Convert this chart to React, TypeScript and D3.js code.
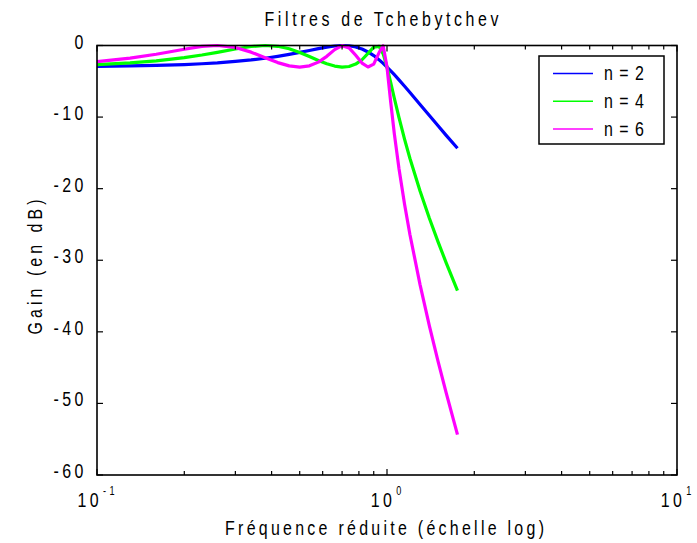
import * as d3 from 'd3';

// reduced frequency (log axis)
const freqs = [0.1, 0.13, 0.16, 0.2, 0.23, 0.26, 0.3, 0.34, 0.38, 0.42, 0.46, 0.5, 0.54, 0.58, 0.62, 0.66, 0.7, 0.74, 0.78, 0.82, 0.86, 0.9, 0.94, 0.97, 1.0, 1.03, 1.06, 1.1, 1.15, 1.2, 1.3, 1.4, 1.5, 1.6, 1.75];

// gain in dB for each order
const gainN2 = [-2.92, -2.86, -2.79, -2.66, -2.55, -2.43, -2.23, -2.02, -1.78, -1.52, -1.25, -0.97, -0.7, -0.44, -0.23, -0.07, 0, -0.04, -0.2, -0.49, -0.9, -1.41, -2.01, -2.5, -3.01, -3.54, -4.08, -4.8, -5.69, -6.57, -8.24, -9.79, -11.22, -12.55, -14.36];
const gainN4 = [-2.67, -2.44, -2.15, -1.7, -1.33, -0.95, -0.49, -0.14, 0, -0.11, -0.46, -0.97, -1.54, -2.09, -2.55, -2.87, -3.01, -2.93, -2.6, -1.99, -1.11, -0.23, -0.13, -1.17, -3.01, -5.19, -7.37, -10.09, -13.11, -15.78, -20.32, -24.13, -27.43, -30.36, -34.24];
const gainN6 = [-2.25, -1.77, -1.22, -0.52, -0.13, 0, -0.27, -0.93, -1.71, -2.39, -2.85, -3.01, -2.84, -2.32, -1.51, -0.58, -0.02, -0.33, -1.37, -2.45, -3.0, -2.61, -0.95, -0.04, -3.01, -7.93, -12.34, -17.22, -22.22, -26.43, -33.4, -39.17, -44.14, -48.54, -54.37];

const seriesNames = ['n = 2', 'n = 4', 'n = 6'];
const seriesColors = ['#0000ff', '#00ff00', '#ff00ff'];

const yTicks = [0, -10, -20, -30, -40, -50, -60];
const xDecades = [0.1, 1, 10];
const xExponents = ['-1', '0', '1'];

const FONT = "'Liberation Sans', Arial, sans-serif";
const SQUEEZE = 0.76; // condensed look

// text squeezed horizontally, letter spacing given in screen pixels
function NText({ x, y, size = 21, ls = 0, anchor = 'start', rotate = false, children }: any) {
  let dx = 0;
  if (anchor === 'middle') dx = ls / 2;
  if (anchor === 'end') dx = ls;
  return (
    <text transform={`translate(${x},${y})${rotate ? ' rotate(-90)' : ''} scale(${SQUEEZE},1) translate(${dx / SQUEEZE},0)`}
      textAnchor={anchor} fontSize={size} letterSpacing={ls / SQUEEZE} fill="#000">
      {children}
    </text>
  );
}

export default function App() {
  const width = 697;
  const height = 543;
  const m = { left: 97, right: 677, top: 45.5, bottom: 475 };

  const x = d3.scaleLog().domain([0.1, 10]).range([m.left, m.right]);
  const y = d3.scaleLinear().domain([-60, 0]).range([m.bottom, m.top]);

  const line = d3.line<[number, number]>()
    .x(d => x(d[0]))
    .y(d => y(d[1]));

  const allSeries = [gainN2, gainN4, gainN6];

  // minor ticks 2..9 of each decade
  const minorTicks: number[] = [];
  [0.1, 1].forEach(dec => {
    for (let k = 2; k <= 9; k++) minorTicks.push(dec * k);
  });

  const legend = { x: 539, y: 56, w: 125, h: 88 };

  return (
    <svg width={width} height={height} style={{ position: 'absolute', left: 0, top: 0, background: '#fff' }}
      fontFamily={FONT}>
      <defs>
        <clipPath id="plotClip">
          <rect x={m.left} y={m.top - 2} width={m.right - m.left} height={m.bottom - m.top + 2} />
        </clipPath>
      </defs>

      {/* title */}
      <NText x={381.5} y={26} anchor="middle" ls={3.6}>Filtres de Tchebytchev</NText>

      {/* curves */}
      <g clipPath="url(#plotClip)">
        {allSeries.map((vals, i) => (
          <path key={i}
            d={line(freqs.map((f, j) => [f, vals[j]] as [number, number])) || ''}
            fill="none" stroke={seriesColors[i]} strokeWidth={3.2} strokeLinejoin="round" />
        ))}
      </g>

      {/* frame */}
      <rect x={m.left} y={m.top} width={m.right - m.left} height={m.bottom - m.top}
        fill="none" stroke="#000" strokeWidth={1.6} />

      {/* y ticks */}
      {yTicks.map(t => (
        <g key={t}>
          <line x1={m.left} x2={m.left + 6} y1={y(t)} y2={y(t)} stroke="#000" strokeWidth={1.2} />
          <line x1={m.right - 6} x2={m.right} y1={y(t)} y2={y(t)} stroke="#000" strokeWidth={1.2} />
          <NText x={83.5} y={y(t) + 3} anchor="end" ls={3.5}>{String(t)}</NText>
        </g>
      ))}

      {/* x ticks */}
      {minorTicks.map(t => (
        <g key={t}>
          <line x1={x(t)} x2={x(t)} y1={m.bottom} y2={m.bottom - 4} stroke="#000" strokeWidth={1.2} />
          <line x1={x(t)} x2={x(t)} y1={m.top} y2={m.top + 4} stroke="#000" strokeWidth={1.2} />
        </g>
      ))}
      {xDecades.map((t, i) => (
        <g key={t}>
          <line x1={x(t)} x2={x(t)} y1={m.bottom} y2={m.bottom - 6} stroke="#000" strokeWidth={1.2} />
          <line x1={x(t)} x2={x(t)} y1={m.top} y2={m.top + 6} stroke="#000" strokeWidth={1.2} />
          <NText x={x(t) - 1} y={507} anchor="middle" ls={3.5}>
            <tspan>10</tspan>
            <tspan dx={1} dy={-12} fontSize={12}>{xExponents[i]}</tspan>
          </NText>
        </g>
      ))}

      {/* axis labels */}
      <NText x={384.5} y={535} anchor="middle" ls={3.27}>Fréquence réduite (échelle log)</NText>
      <NText x={42} y={267} anchor="middle" ls={4.05} rotate>Gain (en dB)</NText>

      {/* legend */}
      <rect x={legend.x} y={legend.y} width={legend.w} height={legend.h} fill="#fff" stroke="#000" strokeWidth={1.5} />
      {seriesNames.map((name, i) => {
        const ly = 73.5 + i * 27.8;
        return (
          <g key={name}>
            <line x1={553} x2={593} y1={ly} y2={ly} stroke={seriesColors[i]} strokeWidth={1.5} />
            <NText x={604} y={ly + 6.5} ls={1}>{name}</NText>
          </g>
        );
      })}
    </svg>
  );
}
